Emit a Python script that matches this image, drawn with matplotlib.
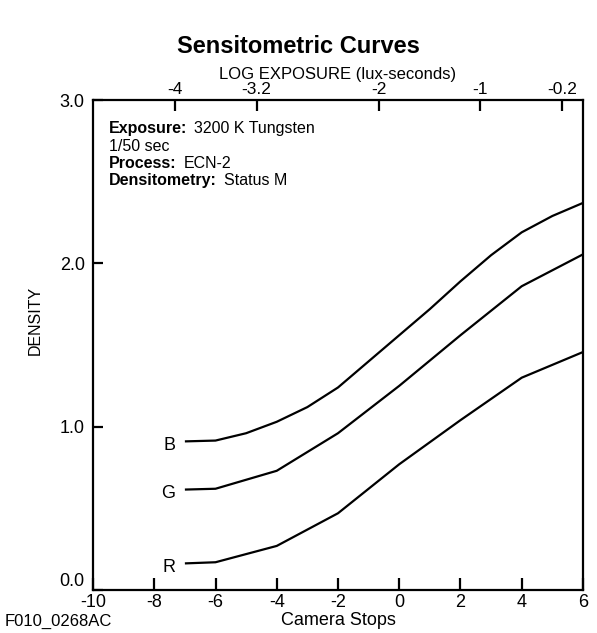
import matplotlib
matplotlib.use("Agg")
import matplotlib.pyplot as plt

plt.rcParams['font.family'] = ['Liberation Sans', 'DejaVu Sans']
plt.rcParams['axes.unicode_minus'] = False

# camera stops (bottom axis) and densities
stops_b = [-7, -6, -5, -4, -3, -2, -1, 0, 1, 2, 3, 4, 5, 6]
density_b = [0.91, 0.915, 0.96, 1.03, 1.12, 1.24, 1.40, 1.56, 1.72, 1.89, 2.05, 2.19, 2.29, 2.37]
stops_gr = [-7, -6, -4, -2, 0, 2, 4, 6]
density_g = [0.615, 0.62, 0.73, 0.96, 1.25, 1.56, 1.86, 2.055]
density_r = [0.163, 0.17, 0.27, 0.47, 0.77, 1.04, 1.30, 1.457]
curve_names = ["B", "G", "R"]

stop_ticks = [-10, -8, -6, -4, -2, 0, 2, 4, 6]
density_ticks = [0.0, 1.0, 2.0, 3.0]
log_ticks = [-4, -3.2, -2, -1, -0.2]
log_labels = ["-4", "-3.2", "-2", "-1", "-0.2"]
log_at_zero = -1.797   # log exposure at 0 camera stops
log_per_stop = 0.30103

info = [("Exposure:", "3200 K Tungsten"),
        (None, "1/50 sec"),
        ("Process:", "ECN-2"),
        ("Densitometry:", "Status M")]


def to_log(s):
    return log_at_zero + log_per_stop * s


def to_stops(l):
    return (l - log_at_zero) / log_per_stop


fig = plt.figure(figsize=(5.97, 6.33), dpi=100)
ax = fig.add_axes([0.1558, 0.0679, 0.8207, 0.7741])

curves = [(stops_b, density_b), (stops_gr, density_g), (stops_gr, density_r)]
for name, (xs, ys) in zip(curve_names, curves):
    ax.plot(xs, ys, color="black", lw=1.6, solid_capstyle="butt")
    ax.annotate(name, xy=(xs[0], ys[0]), xytext=(-7, -3), textcoords="offset points",
                ha="right", va="center", fontsize=13)

ax.set_xlim(-10, 6)
ax.set_ylim(0, 3)
ax.set_xticks(stop_ticks)
ax.set_xticklabels([str(t) for t in stop_ticks])
ax.set_yticks(density_ticks)
ax.set_yticklabels([f"{t:.1f}" for t in density_ticks])
ax.get_yticklabels()[0].set_verticalalignment("bottom")
for sp in ax.spines.values():
    sp.set_linewidth(1.6)
ax.tick_params(axis="x", direction="in", length=9, width=1.6, labelsize=13, pad=3)
ax.tick_params(axis="y", direction="in", length=7, width=1.6, labelsize=13, pad=6)

secax = ax.secondary_xaxis("top", functions=(to_log, to_stops))
secax.set_xticks(log_ticks)
secax.set_xticklabels(log_labels)
secax.tick_params(direction="in", length=8, width=1.6, labelsize=12.5, pad=2)
secax.spines["top"].set_visible(False)
secax.set_xlabel("LOG EXPOSURE (lux-seconds)", fontsize=12, labelpad=2)

# info block
y = 0.941
for bold, normal in info:
    if bold:
        t = ax.text(0.032, y, bold, transform=ax.transAxes, fontsize=11.5,
                    fontweight="bold", va="center", ha="left")
        ax.annotate(normal, xy=(1, 0.5), xycoords=t, xytext=(5, 0),
                    textcoords="offset points", fontsize=11.5, va="center", ha="left")
    else:
        ax.text(0.032, y, normal, transform=ax.transAxes, fontsize=11.5,
                va="center", ha="left")
    y -= 0.035

fig.text(0.5, 0.926, "Sensitometric Curves", fontsize=17, fontweight="bold",
         ha="center", va="center")
fig.text(0.059, 0.494, "DENSITY", fontsize=11.5, rotation=90, ha="center", va="center")
fig.text(0.567, 0.019, "Camera Stops", fontsize=13, ha="center", va="center")
fig.text(0.007, 0.019, "F010_0268AC", fontsize=12, ha="left", va="center")

fig.savefig("out.png", dpi=100)
